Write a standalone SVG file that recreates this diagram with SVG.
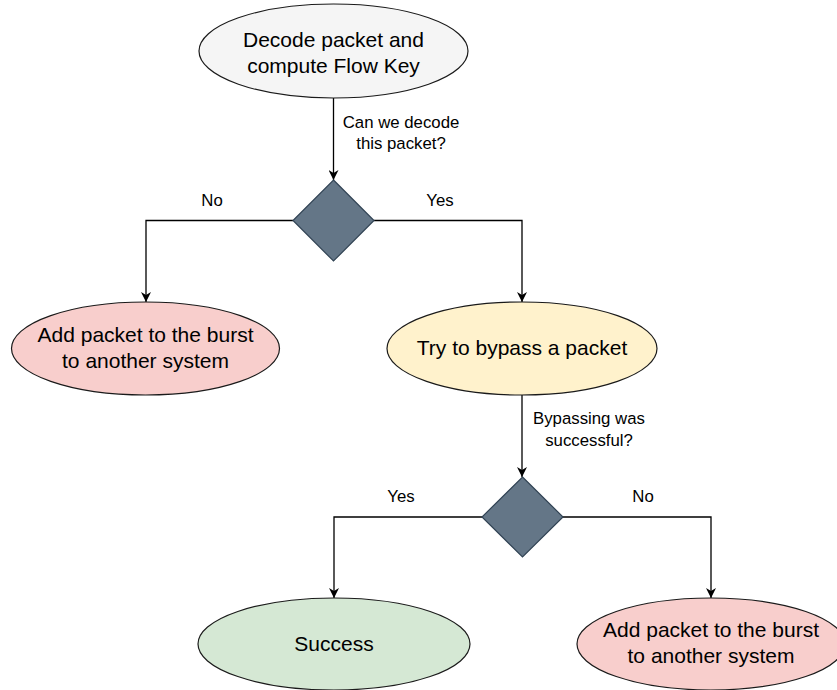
<svg xmlns="http://www.w3.org/2000/svg" width="837" height="690" viewBox="0 0 837 690">
  <style>
    .node { stroke: #1a1a1a; stroke-width: 1.2; }
    .gray { fill: #f5f5f5; }
    .red { fill: #f8cecc; }
    .yellow { fill: #fff2cc; }
    .green { fill: #d5e8d4; }
    .decision { fill: #647687; stroke: #314354; stroke-width: 1.2; }
    .edge { fill: none; stroke: #000; stroke-width: 1.3; }
    .ntext { font-family: "Liberation Sans", Arial, sans-serif; font-size: 21px; fill: #000; text-anchor: middle; }
    .ltext { font-family: "Liberation Sans", Arial, sans-serif; font-size: 16.8px; fill: #000; text-anchor: middle; }
  </style>
  <defs>
    <marker id="arrow" markerUnits="userSpaceOnUse" markerWidth="12" markerHeight="10" refX="10" refY="5" orient="auto">
      <path d="M0,0 L10,5 L0,10 L3,5 z" fill="#000"/>
    </marker>
  </defs>
  <rect width="837" height="690" fill="#fff"/>

  <g id="connectors">
    <path class="edge" d="M333.5,98 L333.5,180" marker-end="url(#arrow)"/>
    <path class="edge" d="M293,220.5 L146,220.5 L146,302" marker-end="url(#arrow)"/>
    <path class="edge" d="M374,220.5 L522,220.5 L522,302" marker-end="url(#arrow)"/>
    <path class="edge" d="M522,395 L522,477" marker-end="url(#arrow)"/>
    <path class="edge" d="M482,517 L334,517 L334,598" marker-end="url(#arrow)"/>
    <path class="edge" d="M563,517 L711,517 L711,598" marker-end="url(#arrow)"/>
    <text class="ltext" x="401" y="128">Can we decode</text>
    <text class="ltext" x="401" y="149">this packet?</text>
    <text class="ltext" x="212" y="206">No</text>
    <text class="ltext" x="440" y="206">Yes</text>
    <text class="ltext" x="589" y="424">Bypassing was</text>
    <text class="ltext" x="589" y="446">successful?</text>
    <text class="ltext" x="401" y="502">Yes</text>
    <text class="ltext" x="643" y="502">No</text>
  </g>

  <g id="decode">
    <ellipse class="node gray" cx="333.5" cy="51" rx="134.5" ry="47"/>
    <text class="ntext" x="333.5" y="47">Decode packet and</text>
    <text class="ntext" x="333.5" y="73">compute Flow Key</text>
  </g>

  <g id="decision-decode">
    <polygon class="decision" points="333.5,180 374,220.5 333.5,261 293,220.5"/>
  </g>

  <g id="burst-left">
    <ellipse class="node red" cx="145.5" cy="348.5" rx="134" ry="46.5"/>
    <text class="ntext" x="145.5" y="342">Add packet to the burst</text>
    <text class="ntext" x="145.5" y="368">to another system</text>
  </g>

  <g id="bypass">
    <ellipse class="node yellow" cx="522" cy="348.5" rx="135" ry="46.5"/>
    <text class="ntext" x="522" y="355">Try to bypass a packet</text>
  </g>

  <g id="decision-bypass">
    <polygon class="decision" points="522.5,477 563,517 522.5,557 482,517"/>
  </g>

  <g id="success">
    <ellipse class="node green" cx="334" cy="644" rx="136" ry="46"/>
    <text class="ntext" x="334" y="651">Success</text>
  </g>

  <g id="burst-right">
    <ellipse class="node red" cx="711" cy="644" rx="134" ry="46"/>
    <text class="ntext" x="711" y="637">Add packet to the burst</text>
    <text class="ntext" x="711" y="663">to another system</text>
  </g>
</svg>
